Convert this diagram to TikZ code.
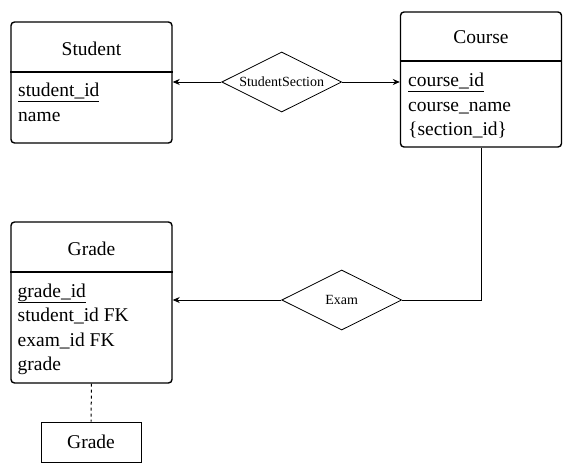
\documentclass[tikz,border=0pt]{standalone}
\usepackage{fontspec}
\setmainfont{Liberation Serif}
\usetikzlibrary{arrows.meta,shapes.geometric}

\tikzset{
  entity/.style={draw, line width=1.4pt, rounded corners=3.5pt, minimum width=161pt, inner sep=0pt},
  title/.style={anchor=base, inner sep=0pt, font=\fontsize{19.5}{24}\selectfont},
  attr/.style={anchor=base west, inner sep=0pt, font=\fontsize{19.5}{24}\selectfont},
  relation/.style={draw, diamond, aspect=2, line width=0.8pt, minimum width=120pt, minimum height=60pt, inner sep=0pt, font=\fontsize{14}{16}\selectfont},
  weak/.style={draw, line width=0.8pt, minimum width=100pt, minimum height=40pt, inner sep=0pt, font=\fontsize{19.5}{24}\selectfont},
  link/.style={-{Stealth[length=7pt,width=6pt]}, line width=0.8pt},
}

\begin{document}
\begin{tikzpicture}[x=1pt,y=-1pt]
\useasboundingbox (0,0) rectangle (572,473);

% Entity boxes
\node[entity, minimum height=121pt] (student) at (91.5,82.5) {};
\node[entity, minimum height=135pt] (course) at (481,79.5) {};
\node[entity, minimum height=161pt] (grade) at (91.5,302.5) {};

% Header lines
\draw[line width=1.4pt] (student.west |- 0,72) -- (student.east |- 0,72);
\draw[line width=1.4pt] (course.west |- 0,61) -- (course.east |- 0,61);
\draw[line width=1.4pt] (grade.west |- 0,272) -- (grade.east |- 0,272);

% Titles
\node[title] (student title) at (91.5,56) {Student};
\node[title] (course title) at (481,44) {Course};
\node[title] (grade title) at (91.5,255) {Grade};

% Attributes of Student
\node[attr] (student id) at (18,97) {\underline{student\_id}};
\node[attr] (student name) at (18,121.5) {name};

% Attributes of Course
\node[attr] (course id) at (408,87) {\underline{course\_id}};
\node[attr] (course name) at (408,111.5) {course\_name};
\node[attr] (course section) at (408,136) {\{section\_id\}};

% Attributes of Grade
\node[attr] (grade id) at (17.5,297) {\underline{grade\_id}};
\node[attr] (grade student) at (17.5,321.5) {student\_id FK};
\node[attr] (grade exam) at (17.5,346) {exam\_id FK};
\node[attr] (grade value) at (17.5,370) {grade};

% Relationships
\node[relation] (studsec) at (281.7,82) {StudentSection};
\node[relation] (exam) at (341.7,300) {Exam};

% Weak entity below Grade
\node[weak] (grade weak) at (91,442) {Grade};

% Connectors
\draw[link] (studsec.west) -- (student.east |- studsec.west);
\draw[link] (studsec.east) -- (course.west |- studsec.east);
\draw[link] (exam.west) -- (grade.east |- exam.west);
\draw[line width=0.8pt] (exam.east) -| (course.south);
\draw[line width=1pt, dash pattern=on 3pt off 3pt] (grade.south) -- (grade weak.north);

\end{tikzpicture}
\end{document}
